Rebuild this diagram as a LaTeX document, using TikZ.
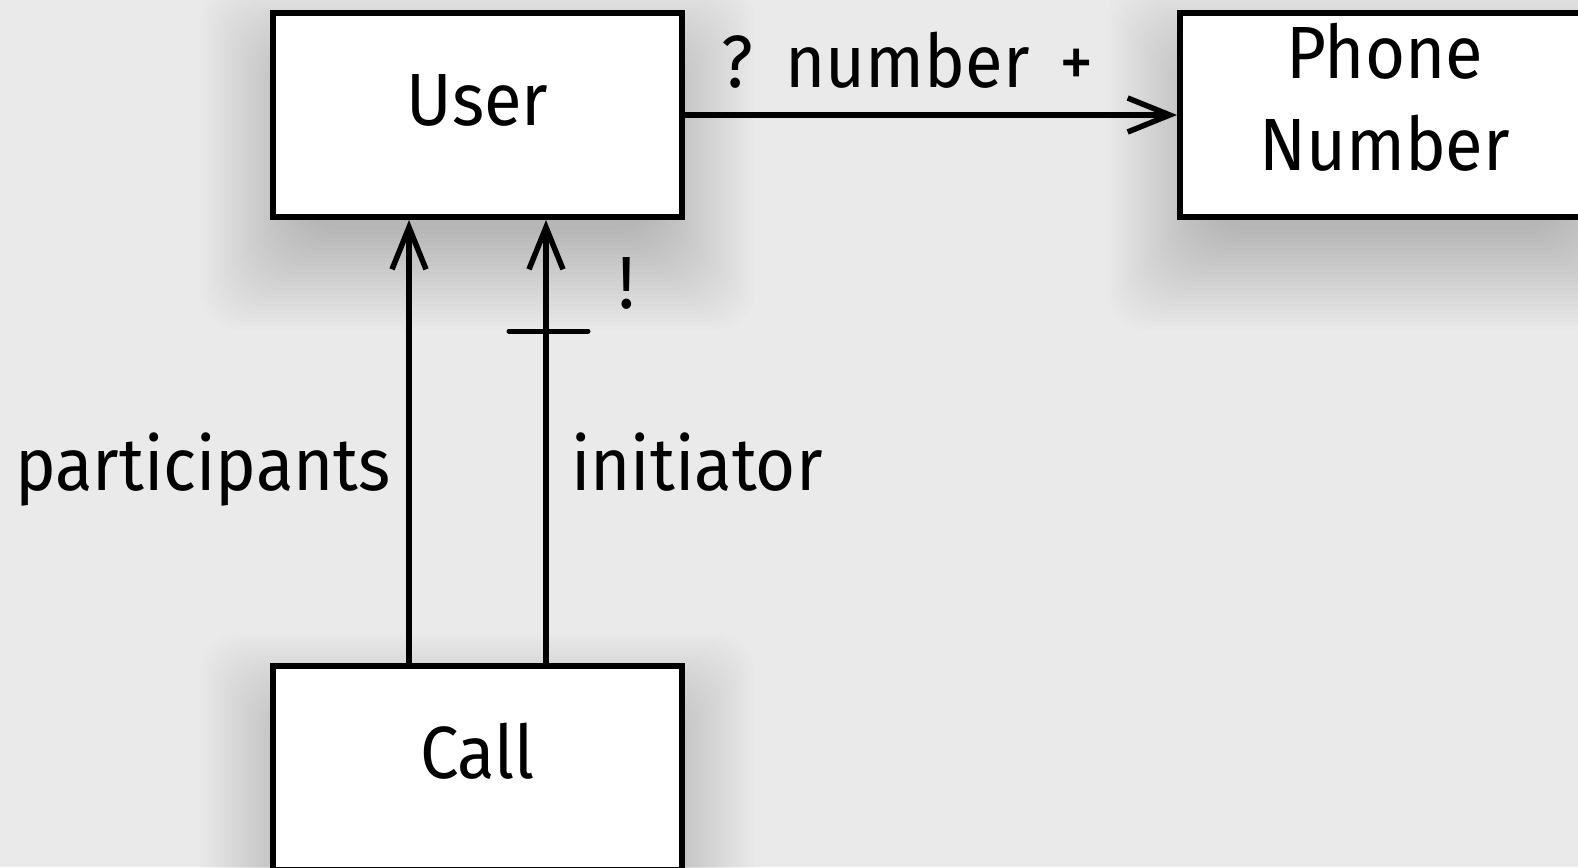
\documentclass[tikz,border=0pt]{standalone}
\usepackage{fontspec}
\setmainfont[FakeStretch=0.93]{Fira Sans}
\usetikzlibrary{arrows.meta}
\definecolor{bg}{RGB}{234,234,234}
\pgfdeclarelayer{back}
\pgfsetlayers{back,main}
\newcommand{\softshadow}[1]{%
  \begin{pgfonlayer}{back}
    \foreach \e in {-30,-26,...,70}{%
      \fill[black,opacity=0.0065,rounded corners=40pt]
        ([xshift=-\e pt,yshift=\e pt-40pt]#1.north west) rectangle
        ([xshift=\e pt,yshift=-\e pt-40pt]#1.south east);}
  \end{pgfonlayer}}
\begin{document}
\begin{tikzpicture}[x=1pt,y=-1pt,
  box/.style={draw=black,line width=6pt,fill=white,minimum width=409pt,minimum height=204pt,
    inner sep=0pt,text height=56pt,text depth=36pt,font=\fontsize{74}{92}\selectfont},
  conn/.style={line width=5.5pt,-{Straight Barb[length=42pt,width=34pt]}},
  lbl/.style={font=\fontsize{74}{92}\selectfont,inner sep=0pt}]
\begin{pgfonlayer}{back}
\fill[bg] (0,0) rectangle (1578,867);
\end{pgfonlayer}
\useasboundingbox (0,0) rectangle (1578,867);
\node[box] (user) at (477.5,115) {User};
\node[box,text height=130pt,text depth=20pt] (phone) at (1384.5,115)
  {\begin{tabular}[b]{@{}c@{}}Phone\\Number\end{tabular}};
\node[box] (call) at (477.5,768) {Call};
\softshadow{user}
\softshadow{phone}
\softshadow{call}
\coordinate (px) at (409,0);
\coordinate (ix) at (546,0);
\draw[conn] (user.east) -- (phone.west);
\draw[conn] (call.north -| px) -- (user.south -| px);
\draw[conn] (call.north -| ix) -- (user.south -| ix);
\coordinate (tick) at (548,331);
\draw[line width=5pt,line cap=round] ([xshift=-39pt]tick) -- ([xshift=40pt]tick);
\node[lbl,anchor=base] (numlbl) at (908,87) {?\hspace{32pt}number\hspace{30pt}+};
\node[lbl,anchor=base east] (partlbl) at (391,490) {participants};
\node[lbl,anchor=base west] (initlbl) at (571,490) {initiator};
\node[lbl,anchor=base] (bang) at (627,308) {!};
\end{tikzpicture}
\end{document}
